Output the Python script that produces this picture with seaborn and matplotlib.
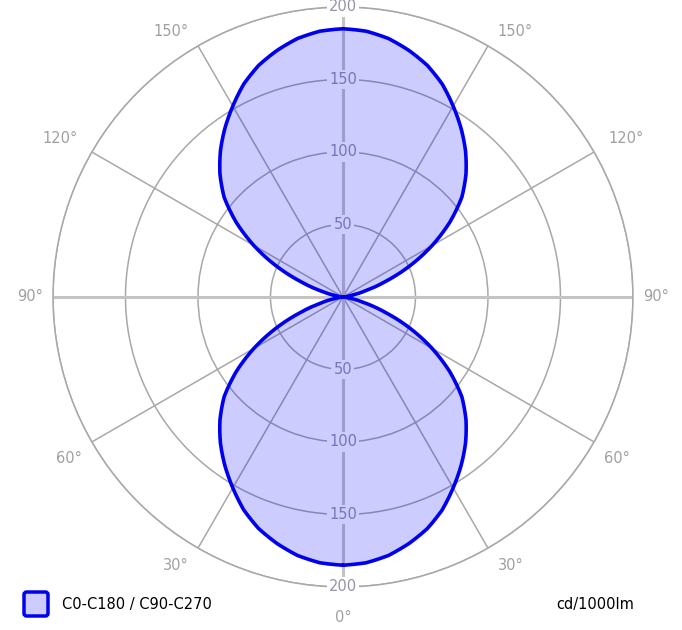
import numpy as np
import pandas as pd
import seaborn as sns
import matplotlib.pyplot as plt
from matplotlib.patches import FancyBboxPatch

gamma = [0, 5, 10, 15, 20, 25, 30, 35, 40, 45, 50, 55, 60, 65, 70, 75, 80, 85, 90,
         95, 100, 105, 110, 115, 120, 125, 130, 135, 140, 145, 150, 155, 160, 165, 170, 175, 180]
intensidad = [185, 184, 181, 176, 170, 162, 152, 142, 131.5, 120, 107, 90, 71, 51, 31, 15, 5, 1, 0,
              1, 5, 15, 31, 51, 71, 90, 107, 120, 131.5, 142, 152, 162, 170, 176, 181, 184, 185]

anillos = [50, 100, 150, 200]
etiquetas_angulo = [0, 30, 60, 90, 120, 150]
serie = "C0-C180 / C90-C270"
unidad = "cd/1000lm"

sns.set_style("white")
plt.rcParams["font.family"] = ["DejaVu Sans"]

fig = plt.figure(figsize=(6.82, 6.3), dpi=100)
ax = fig.add_axes([0.0777, 0.0683, 0.8504, 0.9206], projection="polar")
ax.set_theta_zero_location("S")
ax.set_theta_direction(1)
ax.set_ylim(0, 200)

# curva: lado derecho 0->180, lado izquierdo 180->360
th = gamma + [360 - g for g in gamma[::-1]]
rr = intensidad + intensidad[::-1]
df = pd.DataFrame({"theta": np.deg2rad(th), "r": rr})

# rejilla
ax.set_rgrids(anillos, labels=[""] * len(anillos))
ax.set_thetagrids([30, 60, 120, 150, 210, 240, 300, 330], labels=[])
ax.grid(True, color="#a8a8a8", lw=1.1)
ax.spines["polar"].set_color("#a8a8a8")
ax.spines["polar"].set_linewidth(1.1)
for a in [0, 90]:
    t = np.deg2rad(a)
    ax.plot([t, t], [0, 200], color="#c4c4c4", lw=2.2, zorder=1.6)
    ax.plot([t + np.pi, t + np.pi], [0, 200], color="#c4c4c4", lw=2.2, zorder=1.6)

# etiquetas radiales (arriba y abajo)
for r in anillos:
    for t in [0, np.pi]:
        ax.text(t, r, str(r), ha="center", va="center", fontsize=10.5, color="#9494a4",
                bbox=dict(boxstyle="square,pad=0.15", fc="white", ec="none"), zorder=3)

# etiquetas angulares (angulo de dibujo y radio ajustados a la referencia)
pos_etiqueta = {0: (0, 221), 30: (32, 218), 60: (59.5, 219), 90: (90, 216),
                120: (119.3, 224), 150: (147, 218)}
for a in etiquetas_angulo:
    ang, rad = pos_etiqueta[a]
    for s in ([1] if a == 0 else [1, -1]):
        ax.text(np.deg2rad(s * ang), rad, f"{a}°", ha="center", va="center",
                fontsize=10.5, color="#a0a0a0", zorder=3)

relleno = ax.fill(df["theta"], df["r"], color="blue", alpha=0.2, lw=0, zorder=4)[0]
relleno.get_path()._interpolation_steps = 20
sns.lineplot(data=df, x="theta", y="r", sort=False, color="#0000ee", lw=2.6, ax=ax, zorder=5)
ax.lines[-1].get_path()._interpolation_steps = 20
ax.set_xlabel("")
ax.set_ylabel("")
ax.set_xticklabels([])
ax.set_yticklabels([])

# leyenda
fig.patches.append(FancyBboxPatch((24 / 682, 1 - 616 / 630), 24 / 682, 24 / 630,
                                  boxstyle="round,pad=0,rounding_size=0.004",
                                  transform=fig.transFigure, fc="#ccccff", ec="#0000ee", lw=2.5))
fig.text(62 / 682, 1 - 604 / 630, serie, ha="left", va="center", fontsize=10.5, color="black")
fig.text(634 / 682, 1 - 604 / 630, unidad, ha="right", va="center", fontsize=10.5, color="black")

fig.savefig("out.png", dpi=100)
